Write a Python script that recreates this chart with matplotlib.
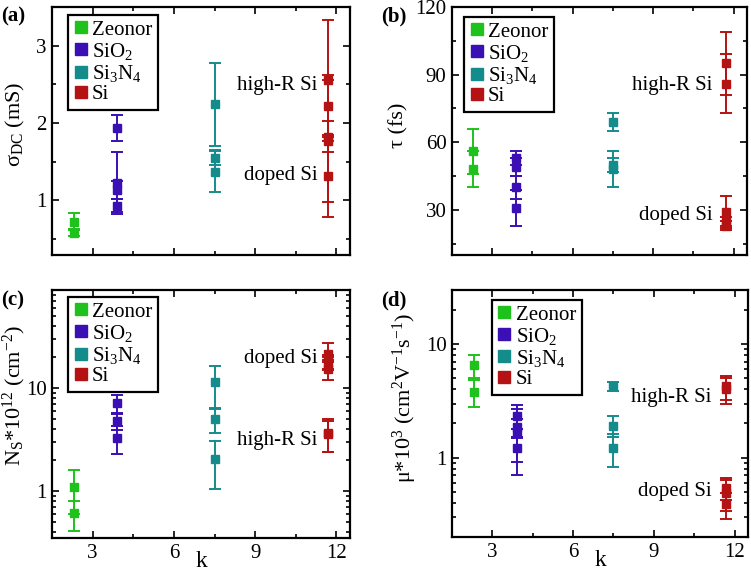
import matplotlib
matplotlib.use("Agg")
import matplotlib.pyplot as plt
import matplotlib.ticker as ticker
from matplotlib.lines import Line2D

plt.rcParams['font.family'] = ['Liberation Serif', 'DejaVu Serif']
plt.rcParams['mathtext.fontset'] = 'custom'
plt.rcParams['mathtext.rm'] = 'Liberation Serif'
plt.rcParams['mathtext.it'] = 'Liberation Serif:italic'
plt.rcParams['mathtext.bf'] = 'Liberation Serif:bold'

# ---------------- data ----------------
materials = ['Zeonor', 'SiO2', 'Si3N4', 'Si']
legend_labels = ['Zeonor', 'SiO$_2$', 'Si$_3$N$_4$', 'Si']
colors = ['#1fc21c', '#3a0fb4', '#148c8c', '#b51313']
k_values = [2.3, 3.9, 7.5, 11.7]

# (a) sigma_DC (mS)
sigma_zeonor = [0.72, 0.58]
sigma_zeonor_err = [0.11, 0.05]
sigma_sio2 = [1.93, 1.22, 1.13, 0.93]
sigma_sio2_err = [0.17, 0.40, 0.12, 0.08]
sigma_si3n4 = [2.24, 1.55, 1.37]
sigma_si3n4_err = [0.54, 0.10, 0.26]
sigma_si = [2.55, 2.22, 1.82, 1.76, 1.31]
sigma_si_err = [0.78, 0.40, 0.20, 0.79, 0.53]

# (b) tau (fs)
tau_zeonor = [56, 48]
tau_zeonor_err = [10, 8]
tau_sio2 = [53, 49, 40, 31]
tau_sio2_err = [3, 4, 5, 8]
tau_si3n4 = [69, 50, 48]
tau_si3n4_err = [4, 3, 8]
tau_si = [95, 86, 29, 25, 23]
tau_si_err = [14, 13, 7, 2, 2]

# (c) N_S * 1e12 (cm^-2)
ns_zeonor = [1.1, 0.61]
ns_zeonor_err = [0.5, 0.2]
ns_sio2 = [7.1, 4.8, 3.3]
ns_sio2_err = [1.5, 0.9, 1.0]
ns_si3n4 = [11.4, 5.0, 2.05]
ns_si3n4_err = [5.0, 1.3, 1.0]
ns_si = [21.5, 19.5, 17.5, 15.5, 3.7, 3.6]
ns_si_err = [6.2, 1.5, 2.5, 3.5, 1.3, 1.2]

# (d) mu * 1e3 (cm^2 V^-1 s^-1)
mu_zeonor = [6.5, 3.8]
mu_zeonor_err = [1.5, 1.0]
mu_sio2 = [2.35, 1.85, 1.7, 1.22]
mu_sio2_err = [0.55, 0.35, 1.0, 0.3]
mu_si3n4 = [4.25, 1.92, 1.22]
mu_si3n4_err = [0.35, 0.4, 0.4]
mu_si = [4.25, 4.0, 0.54, 0.49, 0.39]
mu_si_err = [1.0, 1.0, 0.12, 0.15, 0.10]

panels = [
    dict(tag='(a)', tagpos=(1, 16), vals=[sigma_zeonor, sigma_sio2, sigma_si3n4, sigma_si],
         errs=[sigma_zeonor_err, sigma_sio2_err, sigma_si3n4_err, sigma_si_err],
         ylabel='σ$_{\\mathrm{DC}}$ (mS)', ylpos=(15, 124), log=False, ylim=(0.29, 3.5),
         yticks=[1, 2, 3], yminor=0.5,
         texts=[('high-R Si', 11.3, 2.48), ('doped Si', 11.3, 1.32)],
         leg=(0.054, 0.968), rect=(52, 7, 350, 255), xlabels=False),
    dict(tag='(b)', tagpos=(381, 16), vals=[tau_zeonor, tau_sio2, tau_si3n4, tau_si],
         errs=[tau_zeonor_err, tau_sio2_err, tau_si3n4_err, tau_si_err],
         ylabel='τ (fs)', ylpos=(399, 125), log=False, ylim=(10, 120),
         yticks=[30, 60, 90, 120], yminor=15,
         texts=[('high-R Si', 11.2, 85), ('doped Si', 11.2, 27.5)],
         leg=(0.041, 0.96), rect=(452, 7, 747, 255), xlabels=False),
    dict(tag='(c)', tagpos=(1, 300), vals=[ns_zeonor, ns_sio2, ns_si3n4, ns_si],
         errs=[ns_zeonor_err, ns_sio2_err, ns_si3n4_err, ns_si_err],
         ylabel='N$_{\\mathrm{S}}$*10$^{12}$ (cm$^{-2}$)', ylpos=(14, 396), log=True,
         ylim=(0.35, 90), yticks=[1, 10], yminor=None,
         texts=[('doped Si', 11.3, 19.5), ('high-R Si', 11.3, 3.1)],
         leg=(0.054, 0.972), rect=(52, 290, 350, 538), xlabels=True),
    dict(tag='(d)', tagpos=(381, 300), vals=[mu_zeonor, mu_sio2, mu_si3n4, mu_si],
         errs=[mu_zeonor_err, mu_sio2_err, mu_si3n4_err, mu_si_err],
         ylabel='μ*10$^{3}$ (cm$^{2}$V$^{-1}$s$^{-1}$)', ylpos=(405, 398), log=True,
         ylim=(0.2, 30), yticks=[1, 10], yminor=None,
         texts=[('high-R Si', 11.15, 3.4), ('doped Si', 11.15, 0.5)],
         leg=(0.135, 0.96), rect=(452, 290, 748, 537), xlabels=True),
]

W, H = 751, 573
fig = plt.figure(figsize=(W / 100, H / 100), dpi=100)
FS = 15

for p in panels:
    l, t, r, b = p['rect']
    ax = fig.add_axes([l / W, 1 - b / H, (r - l) / W, (b - t) / H])
    for i, m in enumerate(materials):
        ys = p['vals'][i]
        es = p['errs'][i]
        xs = [k_values[i]] * len(ys)
        ax.errorbar(xs, ys, yerr=es, fmt='s', color=colors[i], ms=5.5,
                    elinewidth=1.4, capsize=4.5, capthick=1.4, zorder=3)
    if p['log']:
        ax.set_yscale('log')
        ax.yaxis.set_major_locator(ticker.FixedLocator(p['yticks']))
        ax.yaxis.set_major_formatter(ticker.FuncFormatter(lambda v, _: f"{v:g}"))
        ax.yaxis.set_minor_locator(ticker.LogLocator(base=10, subs=range(2, 10)))
        ax.yaxis.set_minor_formatter(ticker.NullFormatter())
    else:
        ax.set_yticks(p['yticks'])
        ax.yaxis.set_minor_locator(ticker.MultipleLocator(p['yminor']))
    ax.set_ylim(*p['ylim'])
    ax.set_xlim(1.5, 12.5)
    ax.set_xticks([3, 6, 9, 12])
    ax.xaxis.set_minor_locator(ticker.MultipleLocator(1.5))
    ax.tick_params(which='both', direction='in', top=True, right=True,
                   labelsize=FS, width=1.2, pad=4)
    ax.tick_params(which='major', length=5)
    ax.tick_params(which='minor', length=3)
    for s in ax.spines.values():
        s.set_linewidth(1.6)
    if p['xlabels']:
        ax.set_xlabel('k', fontsize=FS + 2, labelpad=-8)
    else:
        ax.tick_params(axis='x', labelbottom=False)
    fig.text(p['ylpos'][0] / W, 1 - p['ylpos'][1] / H, p['ylabel'], fontsize=FS + 1,
             rotation=90, ha='center', va='center')
    for txt, x, y in p['texts']:
        ax.text(x, y, txt, fontsize=FS, ha='right', va='center')
    handles = [Line2D([], [], marker='s', ls='none', color=c, ms=9) for c in colors]
    leg = ax.legend(handles, legend_labels, loc='upper left', bbox_to_anchor=p['leg'],
                    borderaxespad=0, fontsize=FS, frameon=True, fancybox=False,
                    edgecolor='black', framealpha=1, handlelength=0.7,
                    handletextpad=0.2, labelspacing=0.05, borderpad=0.25)
    leg.get_frame().set_linewidth(1.6)
    fig.text(p['tagpos'][0] / W, 1 - p['tagpos'][1] / H, p['tag'],
             fontsize=FS, fontweight='bold', ha='left', va='center')

fig.savefig('out.png', dpi=100)
